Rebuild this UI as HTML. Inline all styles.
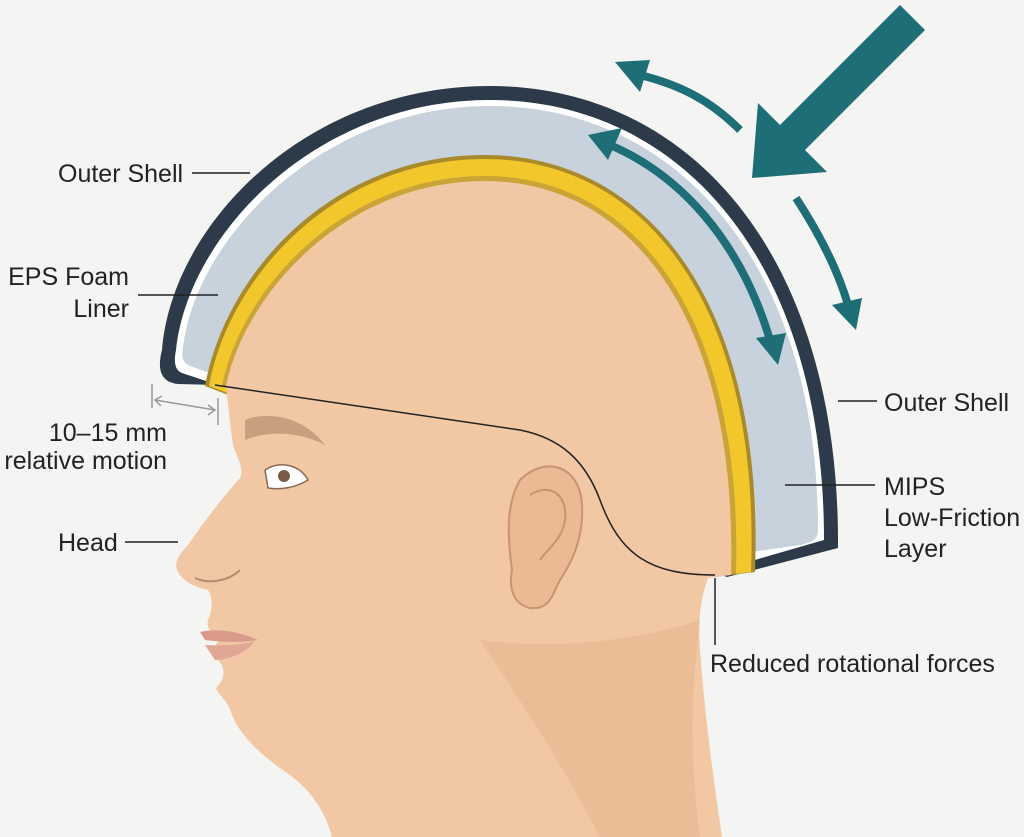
<!DOCTYPE html>
<html><head><meta charset="utf-8"><style>
html,body{margin:0;padding:0;background:#f4f4f2;}
svg{display:block;}
text{font-family:"Liberation Sans",sans-serif;font-size:25px;fill:#222;}
</style></head><body>
<svg width="1024" height="837" viewBox="0 0 1024 837" xmlns="http://www.w3.org/2000/svg">
<rect width="1024" height="837" fill="#f4f4f2"/>
<path d="M178,384 C158,382 158,365 162,350 C172,225 305,86 490,86 C690,86 840,255 838,548 L727,577 L218,385 Z" fill="#2c3a49"/>
<path d="M182,373 C174,370 174,360 176,350 C188,235 315,100 490,100 C680,100 824,260 824,540 L727,568 L218,385 Z" fill="#ffffff"/>
<path d="M190,366 C181,362 182,355 183,348 C195,240 320,106 490,106 C675,106 818,262 818,530 C818,540 812,542 800,545 L745,553 L215,375 Z" fill="#c7d2dc"/>
<path d="M205,386 C225,275 330,155 485,155 C645,155 765,300 755,572 L705,578 Z" fill="#a88a2a"/>
<path d="M209,386 C228,279 333,159 485,159 C643,159 761,302 751,572 L710,577 Z" fill="#f2c72c"/>
<path d="M222,386 C240,292 341,176 485,176 C631,176 743,310 736,574 L715,577 Z" fill="#c9a437"/>
<path d="M226,386 C244,296 343,181 485,181 C628,181 738,313 731,575 L708,578 C700,600 698,620 700,650 C705,720 715,790 722,837 L332,837 C325,810 310,790 290,775 C260,755 240,735 232,715 C228,700 218,695 216,688 C225,680 226,668 218,660 C212,652 214,645 220,640 C212,635 206,628 208,620 C212,610 214,600 208,590 C200,588 188,585 180,575 C172,565 178,555 188,545 C205,520 225,495 240,478 C245,470 236,455 233,445 C230,425 228,405 226,386 Z" fill="#f1c7a4"/>
<path d="M480,640 C520,700 560,760 600,837 L700,837 C690,760 690,700 700,620 C640,640 560,650 480,640 Z" fill="#e8b690" opacity="0.6"/>
<path d="M215,385 L520,430 C560,438 585,460 600,500 C620,555 650,575 715,575" fill="none" stroke="#222" stroke-width="1.5"/>
<path d="M245,420 C270,410 305,418 325,445 C300,432 270,430 245,440 Z" fill="#c9a07e"/>
<path d="M265,470 C280,460 300,465 308,480 C295,488 280,490 268,488 Z" fill="#fff" stroke="#8a6a55" stroke-width="1.5"/>
<circle cx="284" cy="476" r="6" fill="#7a5b45"/>
<path d="M200,632 C220,628 240,632 258,640 C240,643 220,642 205,640 Z" fill="#d99a8a"/>
<path d="M205,645 C225,646 240,645 255,641 C245,655 225,660 215,660 Z" fill="#e0a696"/>
<path d="M195,578 C210,585 230,580 240,570" fill="none" stroke="#b88a6e" stroke-width="2"/>
<path d="M520,480 C545,455 580,465 582,505 C584,540 570,565 560,580 C552,595 550,610 530,608 C515,605 508,590 512,570 C508,540 505,505 520,480 Z" fill="#ebb994" stroke="#c8946f" stroke-width="2"/>
<path d="M530,495 C550,482 568,495 565,520 C562,540 548,548 540,560" fill="none" stroke="#c8946f" stroke-width="2"/>
<text x="58" y="182">Outer Shell</text>
<line x1="192" y1="173" x2="250" y2="173" stroke="#222" stroke-width="1.5"/>
<text x="129" y="285" text-anchor="end">EPS Foam</text>
<text x="129" y="317" text-anchor="end">Liner</text>
<line x1="138" y1="295" x2="218" y2="295" stroke="#222" stroke-width="1.5"/>
<line x1="152" y1="384" x2="152" y2="408" stroke="#999" stroke-width="1.5"/>
<line x1="218" y1="398" x2="218" y2="425" stroke="#999" stroke-width="1.5"/>
<path d="M155,400 L215,410" stroke="#999" stroke-width="1.5"/>
<path d="M162,396 L155,400 L161,406 M208,405 L215,410 L208,415" stroke="#999" stroke-width="1.5" fill="none"/>
<text x="167" y="441" text-anchor="end">10–15 mm</text>
<text x="167" y="469" text-anchor="end">relative motion</text>
<text x="58" y="551">Head</text>
<line x1="125" y1="542" x2="178" y2="542" stroke="#222" stroke-width="1.5"/>
<line x1="838" y1="401" x2="877" y2="401" stroke="#222" stroke-width="1.5"/>
<text x="884" y="411">Outer Shell</text>
<line x1="785" y1="485" x2="875" y2="485" stroke="#222" stroke-width="1.5"/>
<text x="884" y="495">MIPS</text>
<text x="884" y="526">Low-Friction</text>
<text x="884" y="557">Layer</text>
<line x1="715" y1="578" x2="715" y2="645" stroke="#222" stroke-width="1.5"/>
<text x="710" y="672">Reduced rotational forces</text>
<g fill="#1d6e77">
<polygon points="900,5 925,30 805,150 827,172 752,178 758,103 780,125"/>
</g>
<g fill="none" stroke="#1d6e77" stroke-width="8">
<path d="M740,130 C710,100 680,85 640,75"/>
<path d="M610,145 C680,175 740,240 770,340"/>
<path d="M796,198 C820,235 838,270 848,305"/>
</g>
<g fill="#1d6e77">
<polygon points="615,62 650,60 640,92"/>
<polygon points="588,135 622,128 608,160"/>
<polygon points="778,365 756,338 786,333"/>
<polygon points="856,330 832,305 862,298"/>
</g>
</svg>
</body></html>
